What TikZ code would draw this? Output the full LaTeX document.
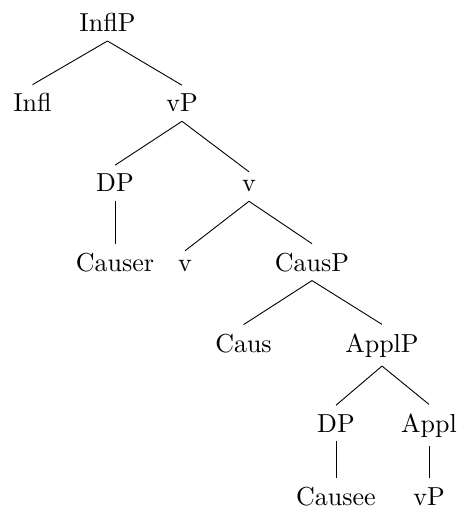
\documentclass[tikz,border=0pt]{standalone}
\usepackage{fontspec}
\setmainfont{lmroman10-regular.otf}
\begin{document}
\begin{tikzpicture}[x=1pt,y=-1pt,
  lab/.style={anchor=base,inner xsep=0pt,inner ysep=9pt,outer sep=0pt,font=\fontsize{26}{30}\selectfont},
  edge/.style={line width=0.9pt}]
\useasboundingbox (0,0) rectangle (459,510);
\node[lab] (InflP) at (107.5,32) {InflP};
\node[lab] (Infl) at (32.5,112) {Infl};
\node[lab] (vPa) at (182,112) {vP};
\node[lab] (DPa) at (115,192) {DP};
\node[lab] (vbar) at (249,192) {v};
\node[lab] (Causer) at (115,271) {Causer};
\node[lab] (vhead) at (185,271) {v};
\node[lab] (CausP) at (312,271) {CausP};
\node[lab] (Caus) at (243.5,352) {Caus};
\node[lab] (ApplP) at (382,352) {ApplP};
\node[lab] (DPb) at (336,432) {DP};
\node[lab] (Appl) at (429,432) {Appl};
\node[lab] (Causee) at (336,505) {Causee};
\node[lab] (vPb) at (429,505) {vP};
\draw[edge] (InflP.south) -- (Infl.north);
\draw[edge] (InflP.south) -- (vPa.north);
\draw[edge] (vPa.south) -- (DPa.north);
\draw[edge] (vPa.south) -- (vbar.north);
\draw[edge] (DPa.south) -- (Causer.north);
\draw[edge] (vbar.south) -- (vhead.north);
\draw[edge] (vbar.south) -- (CausP.north);
\draw[edge] (CausP.south) -- (Caus.north);
\draw[edge] (CausP.south) -- (ApplP.north);
\draw[edge] (ApplP.south) -- (DPb.north);
\draw[edge] (ApplP.south) -- (Appl.north);
\draw[edge] (DPb.south) -- (Causee.north);
\draw[edge] (Appl.south) -- (vPb.north);
\end{tikzpicture}
\end{document}
